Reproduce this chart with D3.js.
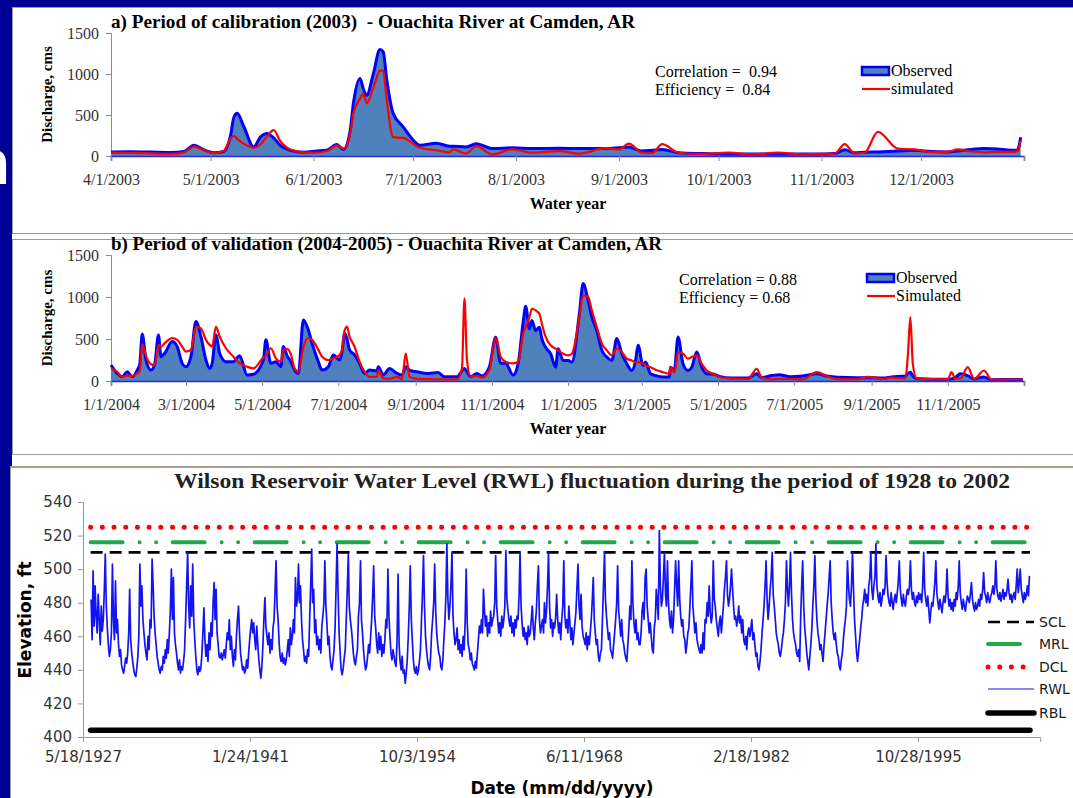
<!DOCTYPE html>
<html>
<head>
<meta charset="utf-8">
<script src="https://cdn.jsdelivr.net/npm/d3@7"></script>
<style>
  body { margin: 0; background: #000096; overflow: hidden; }
</style>
</head>
<body>
<div id="slide"></div>
<script>
// ---------- panel a : calibration 2003 ----------
const calDates = [
  "2003-04-01","2003-04-07","2003-04-13","2003-04-19","2003-04-23","2003-04-26","2003-04-29",
  "2003-05-02","2003-05-05","2003-05-07","2003-05-08","2003-05-09","2003-05-11","2003-05-14","2003-05-16","2003-05-18","2003-05-20","2003-05-22","2003-05-25","2003-05-29",
  "2003-06-02","2003-06-05","2003-06-08","2003-06-10","2003-06-12","2003-06-13","2003-06-15","2003-06-16","2003-06-17","2003-06-19","2003-06-21","2003-06-22","2003-06-23","2003-06-25","2003-06-28",
  "2003-07-01","2003-07-03","2003-07-08","2003-07-12","2003-07-13","2003-07-17","2003-07-20","2003-07-25","2003-07-31",
  "2003-08-06","2003-08-14","2003-08-20","2003-08-28",
  "2003-09-01","2003-09-04","2003-09-08","2003-09-11","2003-09-14","2003-09-19","2003-09-26",
  "2003-10-04","2003-10-11","2003-10-19","2003-10-26",
  "2003-11-02","2003-11-05","2003-11-08","2003-11-11","2003-11-14","2003-11-18","2003-11-24","2003-11-29",
  "2003-12-04","2003-12-09","2003-12-12","2003-12-16","2003-12-20","2003-12-24","2003-12-28","2003-12-30","2003-12-31"
];
const calObserved = [
  50, 52, 48, 42, 55, 130, 75,
  40, 55, 250, 470, 520, 360, 110, 230, 275, 220, 130, 70, 45,
  60, 70, 140, 80, 300, 640, 945, 820, 740, 1000, 1300, 1270, 950, 520, 355,
  195, 130, 155, 120, 120, 110, 150, 90, 100,
  90, 95, 90, 90,
  100, 110, 60, 70, 80, 40, 30,
  25, 25, 25, 25,
  25, 30, 75, 40, 45, 50, 60, 70,
  55, 50, 60, 80, 90, 85, 70, 70, 230
];
const calSimulated = [
  40, 38, 32, 26, 45, 115, 70,
  35, 65, 215, 245, 210, 150, 100, 140, 240, 315, 180, 80, 45,
  40, 60, 130, 90, 260, 520, 700, 760, 640, 830, 1040, 1045, 700, 230, 220,
  150, 100, 70, 45, 80, 30, 120, 20, 80,
  40, 60, 30, 95,
  80, 150, 40, 35, 145, 40, 25,
  40, 20, 40, 20,
  25, 30, 145, 30, 40, 295, 90, 80,
  50, 50, 80, 55, 45, 50, 50, 60, 190
];
const calTicks = ["2003-04-01","2003-05-01","2003-06-01","2003-07-01","2003-08-01","2003-09-01",
  "2003-10-01","2003-11-01","2003-12-01","2004-01-01"];

// ---------- panel b : validation 2004-2005 ----------
const valDates = [
  "2004-01-01","2004-01-06","2004-01-10","2004-01-14","2004-01-18","2004-01-22","2004-01-24","2004-01-26","2004-01-29",
  "2004-02-02","2004-02-05","2004-02-08","2004-02-10","2004-02-13","2004-02-19","2004-02-23","2004-02-27",
  "2004-03-01","2004-03-05","2004-03-09","2004-03-13","2004-03-17","2004-03-20","2004-03-22","2004-03-25","2004-03-28",
  "2004-04-02","2004-04-08","2004-04-13","2004-04-19","2004-04-24",
  "2004-05-02","2004-05-04","2004-05-08","2004-05-12","2004-05-16","2004-05-18","2004-05-21","2004-05-24","2004-05-27","2004-05-30",
  "2004-06-03","2004-06-07","2004-06-10","2004-06-15","2004-06-18","2004-06-23","2004-06-27",
  "2004-07-02","2004-07-04","2004-07-06","2004-07-08","2004-07-10","2004-07-14","2004-07-18","2004-07-22","2004-07-26",
  "2004-08-01","2004-08-02","2004-08-06","2004-08-11","2004-08-17","2004-08-21","2004-08-24","2004-08-27",
  "2004-09-02","2004-09-11","2004-09-19","2004-09-24",
  "2004-10-04","2004-10-08","2004-10-10","2004-10-12","2004-10-15","2004-10-20","2004-10-24","2004-10-30",
  "2004-11-04","2004-11-08","2004-11-12","2004-11-18","2004-11-22","2004-11-26","2004-11-28",
  "2004-12-01","2004-12-03","2004-12-06","2004-12-09","2004-12-11","2004-12-14","2004-12-18","2004-12-22","2004-12-24","2004-12-28",
  "2005-01-01","2005-01-04","2005-01-10","2005-01-13","2005-01-17","2005-01-20","2005-01-24","2005-01-28",
  "2005-02-01","2005-02-05","2005-02-09","2005-02-13","2005-02-17","2005-02-21","2005-02-24","2005-02-26",
  "2005-03-02","2005-03-04","2005-03-08","2005-03-12","2005-03-18","2005-03-23","2005-03-24","2005-03-27","2005-03-30",
  "2005-04-03","2005-04-07","2005-04-10","2005-04-14","2005-04-18","2005-04-22","2005-04-28",
  "2005-05-02","2005-05-12","2005-05-25",
  "2005-06-01","2005-06-05","2005-06-13","2005-06-19","2005-06-28",
  "2005-07-08","2005-07-19","2005-07-27",
  "2005-08-05","2005-08-20","2005-08-29",
  "2005-09-10","2005-09-17","2005-09-28","2005-09-30","2005-10-02","2005-10-04",
  "2005-10-07","2005-10-20",
  "2005-11-01","2005-11-04","2005-11-07","2005-11-11","2005-11-17","2005-11-22","2005-11-30",
  "2005-12-06","2005-12-20","2005-12-31"
];
const valObserved = [
  190, 90, 50, 110, 50, 130, 200, 560, 250,
  130, 200, 548, 290, 330, 470, 410, 210,
  170, 290, 707, 528, 250, 150, 210, 548, 330,
  230, 230, 300, 70, 80,
  250, 490, 210, 230, 170, 410, 300, 230, 130, 90,
  727, 607, 450, 230, 130, 170, 310,
  250, 350, 568, 500, 370, 310, 210, 90, 130,
  120, 170, 70, 150, 90, 70, 170, 130,
  110, 90, 100, 50,
  50, 120, 150, 110, 50, 90, 60, 170,
  520, 210, 210, 70, 210, 700, 890,
  620, 720, 600, 640, 500, 400, 325, 165, 385, 245,
  245, 225, 800, 1160, 960, 760, 600, 365,
  285, 245, 505, 325, 205, 125, 245, 425,
  185, 225, 85, 65, 48, 48, 165, 125, 525,
  205, 125, 165, 345, 165, 85, 80,
  55, 35, 35,
  85, 40, 65, 75, 50,
  60, 85, 60,
  45, 40, 40,
  35, 48, 60, 90, 105, 60,
  30, 22,
  20, 25, 40, 85, 65, 25, 48,
  15, 18, 18
];
const valSimulated = [
  150, 110, 50, 64, 60, 90, 120, 440, 300,
  200, 190, 430, 410, 450, 510, 490, 410,
  350, 370, 647, 627, 490, 430, 410, 647, 530,
  390, 290, 210, 170, 150,
  280, 300, 390, 270, 230, 370, 380, 320, 150, 110,
  400, 510, 490, 370, 290, 250, 270,
  310, 370, 600, 647, 528, 410, 230, 110, 50,
  50, 130, 30, 25, 50, 20, 330, 50,
  25, 22, 20, 20,
  20, 150, 985, 250, 50, 60, 40, 130,
  510, 290, 230, 210, 230, 560, 650,
  760, 860, 840, 800, 680, 525, 425, 385, 365, 325,
  305, 325, 760, 1020, 1000, 840, 640, 445,
  365, 305, 385, 345, 265, 245, 225, 225,
  205, 185, 165, 135, 105, 85, 165, 100, 345,
  325, 265, 285, 305, 205, 125, 80,
  48, 30, 25,
  145, 40, 20, 25, 25,
  20, 105, 60,
  22, 20, 48,
  25, 40, 30, 300, 760, 200,
  30, 22,
  20, 105, 30, 30, 165, 25, 125,
  15, 18, 18
];
const valTicks = ["2004-01-01","2004-03-01","2004-05-01","2004-07-01","2004-09-01","2004-11-01",
  "2005-01-01","2005-03-01","2005-05-01","2005-07-01","2005-09-01","2005-11-01","2006-01-01"];

const dischargeTicks = [0, 500, 1000, 1500];

// ---------- bottom : Wilson reservoir water level, monthly (ft) ----------
const rwl1928 = [
  482, 458, 499, 466, 490, 472, 462, 485, 470, 455, 478, 463,
  470, 488, 509, 478, 465, 455, 448, 452, 462, 503, 470, 458,
  493, 462, 470, 455, 448, 452, 443, 440, 438, 442, 447, 444,
  450, 462, 488, 458, 450, 445, 440, 437, 436, 441, 448, 460,
  503, 478, 490, 470, 462, 455, 450, 446, 460, 452, 470, 465,
  506, 490, 472, 462, 455, 448, 444, 440, 438, 442, 440, 448,
  444, 452, 447, 458, 450, 462, 475, 500, 470, 495, 462, 455,
  450, 444, 440, 446, 438, 442, 440, 445, 452, 470, 490, 510,
  478, 465, 490, 472, 503, 470, 458, 448, 440, 437, 442, 439,
  441, 450, 462, 477, 458, 448, 455, 445, 462, 452, 468, 460
];
const rwl1938 = [
  480, 492, 470, 488, 462, 455, 448, 447, 450, 446, 449, 452,
  447, 455, 462, 458, 470, 452, 460, 448, 442, 452, 446, 460,
  470, 478, 462, 450, 445, 440, 442, 438, 440, 446, 441, 450,
  458, 465, 470, 462, 468, 458, 452, 466, 455, 446, 440, 435,
  442, 455, 470, 483, 466, 460, 455, 462, 450, 458, 452, 465,
  470, 488, 505, 478, 470, 456, 448, 445, 450, 444, 447, 443,
  446, 452, 458, 448, 465, 455, 460, 470, 462, 495, 478, 482,
  503, 480, 490, 470, 458, 452, 445, 448, 444, 452, 448, 470,
  490, 512, 480, 488, 462, 470, 455, 460, 452, 458, 450, 466,
  472, 480, 505, 478, 468, 455, 460, 448, 442, 440, 446, 452
];
const rwl1948 = [
  465, 490, 515, 485, 462, 450, 440, 437, 441, 447, 452, 470,
  488, 509, 478, 470, 465, 458, 450, 445, 443, 448, 452, 472,
  480, 505, 470, 462, 452, 445, 440, 442, 448, 455, 450, 460,
  470, 485, 502, 472, 465, 455, 450, 462, 452, 460, 448, 455,
  450, 458, 470, 465, 500, 472, 460, 450, 446, 452, 448, 444,
  442, 460, 497, 455, 445, 440, 448, 438, 440, 432, 438, 446,
  460, 478, 502, 470, 458, 446, 440, 438, 442, 437, 440, 445,
  452, 470, 485, 508, 478, 460, 452, 446, 442, 440, 448, 462,
  470, 480, 503, 475, 462, 455, 450, 448, 442, 440, 446, 458,
  468, 485, 515, 482, 470, 478, 490, 510, 472, 462, 455, 458
];
const rwl1958 = [
  465, 452, 458, 450, 455, 448, 460, 452, 470, 500, 468, 455,
  452, 446, 450, 444, 442, 440, 445, 441, 450, 458, 466, 462,
  470, 462, 488, 475, 466, 472, 460, 468, 462, 475, 466, 470,
  472, 480, 508, 478, 470, 462, 468, 460, 472, 465, 470, 478,
  511, 482, 476, 470, 466, 472, 462, 468, 460, 470, 465, 472,
  470, 485, 510, 478, 468, 460, 465, 458, 462, 455, 466, 460,
  462, 470, 478, 465, 458, 468, 475, 490, 502, 470, 462, 466,
  470, 462, 480, 468, 475, 490, 510, 478, 465, 470, 460, 468,
  465, 472, 485, 470, 462, 468, 458, 470, 478, 505, 472, 465,
  470, 462, 478, 468, 458, 465, 455, 462, 468, 475, 490, 503
];
const rwl1968 = [
  478, 470, 485, 466, 460, 458, 455, 462, 452, 460, 455, 462,
  470, 482, 495, 470, 462, 455, 458, 448, 445, 450, 452, 470,
  490, 510, 482, 472, 465, 458, 462, 452, 450, 447, 455, 462,
  470, 480, 502, 475, 468, 460, 470, 458, 455, 450, 447, 445,
  455, 465, 478, 470, 505, 480, 468, 462, 470, 458, 462, 455,
  455, 462, 475, 480, 470, 495, 500, 478, 470, 462, 468, 460,
  452, 450, 465, 470, 488, 480, 470, 523, 490, 478, 482, 495,
  510, 485, 478, 505, 480, 470, 465, 475, 462, 470, 488, 505,
  490, 478, 505, 482, 472, 466, 470, 460, 458, 450, 455, 462,
  465, 478, 490, 505, 478, 470, 462, 468, 458, 455, 452, 450
];
const rwl1978 = [
  455, 450, 462, 452, 470, 468, 480, 472, 490, 475, 468, 472,
  505, 482, 478, 470, 465, 460, 468, 472, 462, 470, 478, 488,
  495, 505, 485, 478, 482, 490, 500, 488, 478, 470, 472, 466,
  470, 478, 468, 472, 462, 470, 458, 455, 460, 452, 462, 465,
  460, 465, 470, 458, 462, 455, 448, 450, 442, 440, 445, 452,
  462, 470, 478, 490, 505, 482, 470, 478, 488, 495, 510, 485,
  478, 470, 462, 458, 455, 450, 448, 452, 458, 462, 470, 480,
  505, 488, 478, 490, 510, 485, 470, 462, 458, 455, 450, 448,
  452, 445, 470, 490, 505, 478, 465, 458, 450, 445, 440, 448,
  455, 465, 478, 490, 508, 482, 470, 462, 458, 452, 455, 450
];
const rwl1988 = [
  445, 455, 462, 470, 478, 485, 495, 505, 480, 470, 462, 458,
  462, 455, 450, 448, 442, 440, 446, 450, 458, 465, 470, 478,
  505, 490, 482, 478, 490, 510, 488, 470, 460, 450, 445, 452,
  458, 465, 470, 478, 482, 488, 480, 485, 478, 490, 495, 510,
  488, 482, 490, 495, 515, 490, 484, 480, 486, 478, 482, 488,
  485, 490, 508, 492, 484, 480, 478, 486, 480, 476, 482, 485,
  480, 486, 492, 505, 488, 482, 478, 485, 480, 478, 484, 488,
  485, 490, 505, 488, 482, 486, 480, 478, 484, 480, 486, 482,
  485, 480, 490, 510, 488, 482, 478, 484, 476, 468, 475, 480,
  478, 485, 492, 505, 486, 480, 476, 482, 478, 474, 480, 484
];
const rwl1998 = [
  480, 486, 500, 484, 478, 482, 476, 480, 475, 482, 478, 486,
  482, 490, 505, 486, 480, 476, 482, 478, 475, 480, 484, 482,
  480, 486, 492, 482, 478, 475, 480, 476, 478, 482, 478, 485,
  482, 488, 498, 486, 484, 480, 486, 482, 480, 484, 486, 490,
  485, 490, 505, 488, 484, 482, 486, 481, 484, 488, 482, 486,
  484, 488, 494, 486, 482, 485, 480, 484, 486, 482, 490, 500,
  486, 492, 500, 488, 484, 480, 486, 482, 485, 490, 484, 496
];
const elevTicks = [400, 420, 440, 460, 480, 500, 520, 540];
const dateTicks = ["1927-05-18","1941-01-24","1954-10-03","1968-06-11","1982-02-18","1995-10-28"];
const levelNames = ["SCL", "MRL", "DCL", "RWL", "RBL"];
const levelValues = [510, 516, 525, null, 404];

// ---------------------------------------------------------------
const W = 1073, H = 798;
const serif = "'Liberation Serif', 'Times New Roman', serif";
const sans = "'DejaVu Sans', Verdana, sans-serif";
const parse = d3.utcParse("%Y-%m-%d");
const fmt = d3.utcFormat("%-m/%-d/%Y");

const svg = d3.select("#slide").append("svg")
    .attr("width", W)
    .attr("height", H);

svg.append("rect").attr("width", W).attr("height", H).attr("fill", "#000096");

// bit of slide text peeking out on the left
svg.append("text")
    .attr("x", -32).attr("y", 184)
    .attr("font-family", sans).attr("font-weight", "bold").attr("font-size", 60)
    .attr("fill", "#fff")
    .text("n");

// white sheets behind the two discharge charts
svg.append("rect").attr("x", 12).attr("y", 7).attr("width", 1070).attr("height", 460).attr("fill", "#fff");
svg.append("rect").attr("x", 12.5).attr("y", 7.5).attr("width", 1070).attr("height", 226)
    .attr("fill", "none").attr("stroke", "#9a9a9a");
svg.append("rect").attr("x", 12.5).attr("y", 239.5).attr("width", 1070).attr("height", 215)
    .attr("fill", "none").attr("stroke", "#9a9a9a");

function dischargePanel(o) {
    let g = svg.append("g");
    let tickDates = o.ticks.map(parse);
    let x = d3.scaleUtc()
        .domain([tickDates[0], tickDates[tickDates.length - 1]])
        .range([111, o.right]);
    let y = d3.scaleLinear().domain([0, 1500]).range([o.bottom, o.top]);

    let rows = o.dates.map((d, i) => ({date: parse(d), obs: o.obs[i], sim: o.sim[i]}));

    //y axis
    let ya = g.append("g")
        .attr("transform", "translate(111,0)")
        .call(d3.axisLeft(y).tickValues(dischargeTicks).tickFormat(d3.format("d")).tickSize(5).tickPadding(7))
        .attr("font-family", serif).attr("font-size", 16);
    ya.select(".domain").attr("stroke", "#8a8a8a");
    ya.selectAll(".tick line").attr("stroke", "#8a8a8a");
    ya.selectAll(".tick text").attr("fill", "#333");

    //observed as filled area with a thick blue edge
    g.append("path")
        .datum(rows)
        .attr("d", d3.area().x(d => x(d.date)).y0(y(0)).y1(d => y(d.obs)).curve(d3.curveMonotoneX))
        .attr("fill", "#4f81bd");
    g.append("path")
        .datum(rows)
        .attr("d", d3.line().x(d => x(d.date)).y(d => y(d.obs)).curve(d3.curveMonotoneX))
        .attr("fill", "none").attr("stroke", "#0000ff").attr("stroke-width", 3)
        .attr("stroke-linejoin", "round");
    g.append("path")
        .datum(rows)
        .attr("d", d3.line().x(d => x(d.date)).y(d => y(d.sim)).curve(d3.curveMonotoneX))
        .attr("fill", "none").attr("stroke", "#ff0000").attr("stroke-width", 2.2)
        .attr("stroke-linejoin", "round");

    //x axis, last tick unlabeled
    let xa = g.append("g")
        .attr("transform", `translate(0,${o.bottom})`)
        .call(d3.axisBottom(x).tickValues(tickDates)
            .tickFormat((d, i) => i === tickDates.length - 1 ? "" : fmt(d))
            .tickSize(5).tickPadding(13))
        .attr("font-family", serif).attr("font-size", 16);
    xa.select(".domain").attr("stroke", "#2a2ad8").attr("stroke-width", 1.5);
    xa.selectAll(".tick line").attr("stroke", "#8a8a8a");
    xa.selectAll(".tick text").attr("fill", "#333");

    //titles
    g.append("text")
        .attr("x", 111).attr("y", o.top - 5)
        .attr("font-family", serif).attr("font-weight", "bold").attr("font-size", 18)
        .attr("textLength", o.titleWidth).attr("lengthAdjust", "spacingAndGlyphs")
        .style("white-space", "pre")
        .text(o.title);
    g.append("text")
        .attr("transform", `translate(47,${(o.top + o.bottom) / 2}) rotate(-90)`)
        .attr("text-anchor", "middle").attr("dy", "0.35em")
        .attr("font-family", serif).attr("font-weight", "bold").attr("font-size", 15)
        .text("Discharge, cms");
    g.append("text")
        .attr("x", 568).attr("y", o.bottom + 53)
        .attr("text-anchor", "middle")
        .attr("font-family", serif).attr("font-weight", "bold").attr("font-size", 16)
        .text("Water year");

    //statistics
    g.append("text").attr("x", o.statX).attr("y", o.statY)
        .attr("font-family", serif).attr("font-size", 16).style("white-space", "pre")
        .text(o.stats[0]);
    g.append("text").attr("x", o.statX).attr("y", o.statY + 18)
        .attr("font-family", serif).attr("font-size", 16).style("white-space", "pre")
        .text(o.stats[1]);

    //legend
    let lx = o.legX, ly = o.legY;
    g.append("rect").attr("x", lx).attr("y", ly - 4).attr("width", 27).attr("height", 8)
        .attr("fill", "#4f81bd").attr("stroke", "#0000ff").attr("stroke-width", 2.5);
    g.append("text").attr("x", lx + 29).attr("y", ly + 5)
        .attr("font-family", serif).attr("font-size", 16).text("Observed");
    g.append("line").attr("x1", lx).attr("x2", lx + 28).attr("y1", ly + 18).attr("y2", ly + 18)
        .attr("stroke", "#ff0000").attr("stroke-width", 2.2);
    g.append("text").attr("x", lx + 29).attr("y", ly + 23)
        .attr("font-family", serif).attr("font-size", 16).text(o.simLabel);
}

dischargePanel({
    dates: calDates, obs: calObserved, sim: calSimulated, ticks: calTicks,
    right: 1024, top: 33, bottom: 156,
    title: "a) Period of calibration (2003)  - Ouachita River at Camden, AR", titleWidth: 524,
    stats: ["Correlation =  0.94", "Efficiency =  0.84"], statX: 655, statY: 77,
    legX: 862, legY: 71, simLabel: "simulated"
});

dischargePanel({
    dates: valDates, obs: valObserved, sim: valSimulated, ticks: valTicks,
    right: 1024, top: 255, bottom: 381,
    title: "b) Period of validation (2004-2005) - Ouachita River at Camden, AR", titleWidth: 551,
    stats: ["Correlation = 0.88", "Efficiency = 0.68"], statX: 679, statY: 285,
    legX: 867, legY: 278, simLabel: "Simulated"
});

// ---------- bottom reservoir chart ----------
svg.append("rect").attr("x", 10).attr("y", 466).attr("width", 1070).attr("height", 340).attr("fill", "#fff");
svg.append("line").attr("x1", 10).attr("x2", W).attr("y1", 467).attr("y2", 467)
    .attr("stroke", "#8c8070").attr("stroke-width", 1.5);
svg.append("line").attr("x1", 10.5).attr("x2", 10.5).attr("y1", 466).attr("y2", H)
    .attr("stroke", "#9a9a9a");

const t0 = parse("1927-05-18"), tEnd = parse("2005-11-01");
const dayPx = 167 / 5000;
const xR = d3.scaleUtc().domain([t0, tEnd]).range([83, 83 + dayPx * (tEnd - t0) / 864e5]);
const yR = d3.scaleLinear().domain([400, 540]).range([737, 502]);

const rwl = [rwl1928, rwl1938, rwl1948, rwl1958, rwl1968, rwl1978, rwl1988, rwl1998].flat()
    .map((v, i) => ({date: new Date(Date.UTC(1928 + Math.floor(i / 12), i % 12, 15)), ft: v}));

const levelStyle = {
    SCL: {stroke: "#000", width: 2.6, dash: "12 7", cap: "butt"},
    MRL: {stroke: "#22a84a", width: 4, dash: "32 17 0 16.5 0 16.5", cap: "round"},
    DCL: {stroke: "#ff0000", width: 5, dash: "0 11.7", cap: "round"},
    RWL: {stroke: "#1414f2", width: 1.7, dash: null, cap: "butt"},
    RBL: {stroke: "#000", width: 5.5, dash: null, cap: "round"}
};
const bg = svg.append("g");

//elevation axis
let yax = bg.append("g")
    .attr("transform", "translate(83,0)")
    .call(d3.axisLeft(yR).tickValues(elevTicks).tickSize(5).tickPadding(6))
    .attr("font-family", sans).attr("font-size", 15);
yax.select(".domain").attr("stroke", "#999");
yax.selectAll(".tick line").attr("stroke", "#999");
yax.selectAll(".tick text").attr("fill", "#333");

let xax = bg.append("g")
    .attr("transform", "translate(0,737)")
    .call(d3.axisBottom(xR).tickValues(dateTicks.map(parse)).tickFormat(fmt).tickSize(5).tickPadding(9))
    .attr("font-family", sans).attr("font-size", 15);
xax.select(".domain").attr("stroke", "#999");
xax.selectAll(".tick line").attr("stroke", "#999");
xax.selectAll(".tick text").attr("fill", "#333");

//reference levels
const lineStart = parse("1928-01-01"), lineEnd = parse("2005-01-01");
levelNames.forEach((name, i) => {
    if (levelValues[i] === null) return;
    let s = levelStyle[name];
    bg.append("line")
        .attr("x1", xR(lineStart)).attr("x2", xR(lineEnd))
        .attr("y1", yR(levelValues[i])).attr("y2", yR(levelValues[i]))
        .attr("stroke", s.stroke).attr("stroke-width", s.width)
        .attr("stroke-dasharray", s.dash).attr("stroke-linecap", s.cap);
});

//water level trace
bg.append("path")
    .datum(rwl)
    .attr("d", d3.line().x(d => xR(d.date)).y(d => yR(d.ft)))
    .attr("fill", "none")
    .attr("stroke", levelStyle.RWL.stroke)
    .attr("stroke-width", levelStyle.RWL.width)
    .attr("stroke-linejoin", "round");

//legend
const legendY = [622, 644, 667, 689, 713];
levelNames.forEach((name, i) => {
    let s = levelStyle[name];
    bg.append("line")
        .attr("x1", 988).attr("x2", 1034).attr("y1", legendY[i]).attr("y2", legendY[i])
        .attr("stroke", s.stroke).attr("stroke-width", name === "RWL" ? 1.2 : s.width)
        .attr("stroke-dasharray", s.dash).attr("stroke-linecap", s.cap);
    bg.append("text")
        .attr("x", 1039).attr("y", legendY[i]).attr("dy", "0.35em")
        .attr("font-family", sans).attr("font-size", 14).attr("fill", "#222")
        .text(name);
});

bg.append("text")
    .attr("x", 174).attr("y", 488)
    .attr("font-family", serif).attr("font-weight", "bold").attr("font-size", 20)
    .attr("fill", "#222")
    .attr("textLength", 836).attr("lengthAdjust", "spacingAndGlyphs")
    .text("Wilson Reservoir Water Level (RWL) fluctuation during the period of 1928 to 2002");

bg.append("text")
    .attr("transform", "translate(25,620) rotate(-90)")
    .attr("text-anchor", "middle").attr("dy", "0.35em")
    .attr("font-family", sans).attr("font-weight", "bold").attr("font-size", 17)
    .text("Elevation, ft");

bg.append("text")
    .attr("x", 562).attr("y", 794)
    .attr("text-anchor", "middle")
    .attr("font-family", sans).attr("font-weight", "bold").attr("font-size", 17)
    .text("Date (mm/dd/yyyy)");
</script>
</body>
</html>
